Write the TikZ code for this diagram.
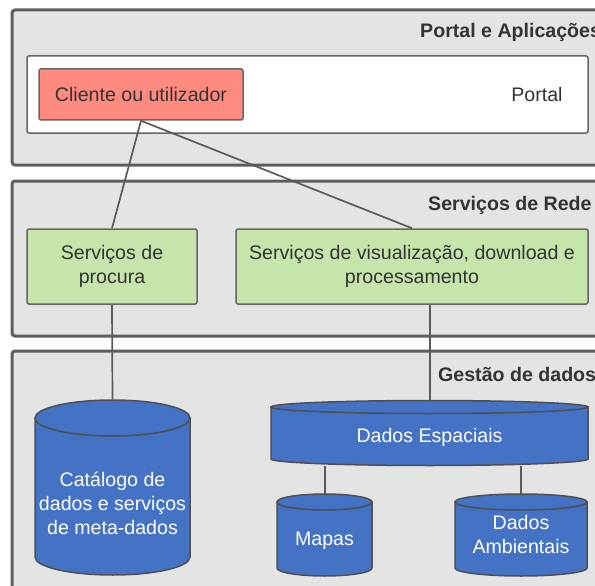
\documentclass[tikz,border=0pt]{standalone}
\usepackage{fontspec}
\setmainfont{Liberation Sans}
\definecolor{panelfill}{HTML}{E4E4E4}
\definecolor{panelline}{HTML}{5E5E5E}
\definecolor{boxline}{HTML}{666666}
\definecolor{connline}{HTML}{5A5A5A}
\definecolor{txt}{HTML}{333333}
\definecolor{salmon}{HTML}{FF8A7F}
\definecolor{leaf}{HTML}{C6E5AA}
\definecolor{dbblue}{HTML}{4472C4}
\definecolor{dbline}{HTML}{4F4F4F}

% cylinder: #1 left x, #2 right x, #3 top ellipse centre y, #4 bottom ellipse centre y, #5 y radius
\newcommand\dbcylinder[5]{%
  \pgfmathsetmacro\cylrx{(#2-#1)/2}%
  \pgfmathsetmacro\cylcx{(#2+#1)/2}%
  \filldraw[cylbody] (#1,#3) -- (#1,#4)
    arc[start angle=180, end angle=0, x radius=\cylrx, y radius=#5] -- (#2,#3) -- cycle;
  \filldraw[cylbody] (\cylcx,#3) ellipse [x radius=\cylrx, y radius=#5];
}

\begin{document}
\begin{tikzpicture}[x=1pt, y=-1pt,
  panel/.style={draw=panelline, line width=3pt, fill=panelfill, rounded corners=3pt},
  box/.style={draw=boxline, line width=1.5pt, rounded corners=2pt, text=txt,
    font=\fontsize{19.6}{24}\selectfont, align=center, inner sep=0pt},
  plain/.style={text=txt, font=\fontsize{19.6}{24}\selectfont, inner sep=0pt},
  title/.style={text=txt, font=\bfseries\fontsize{19.6}{24}\selectfont, inner sep=0pt, anchor=base west},
  cyltext/.style={text=white, font=\fontsize{19.6}{24}\selectfont, align=center, inner sep=0pt},
  cylbody/.style={fill=dbblue, draw=dbline, line width=1.5pt},
  conn/.style={draw=connline, line width=1.7pt}]

\useasboundingbox (0,0) rectangle (595,586);
\clip (0,0) rectangle (595,586);

% layer panels
\draw[panel] (12,10) rectangle (620,165);
\draw[panel] (12,181) rectangle (620,336);
\draw[panel] (12,351) rectangle (620,620);

\node[title] (t1) at (420,37.5) {Portal e Aplicações};
\node[title] (t2) at (428,210) {Serviços de Rede};
\node[title] (t3) at (438,381.5) {Gestão de dados};

% portal layer
\node[box, fill=white, minimum width=561, minimum height=77] (portal) at (307.5,94.5) {};
\node[plain, anchor=base] (portaltxt) at (537,102) {Portal};
\node[box, fill=salmon, minimum width=204, minimum height=51] (cliente) at (141,94.5) {Cliente ou utilizador};

% network services layer
\node[box, fill=leaf, minimum width=170, minimum height=75] (procura) at (112,266.5) {Serviços de\\procura};
\node[box, fill=leaf, minimum width=352, minimum height=75] (visual) at (412,266.5) {Serviços de visualização, download e\\processamento};

% data layer
\dbcylinder{35}{190}{418}{557}{18}
\dbcylinder{271}{588}{407}{459}{6.5}
\dbcylinder{277}{372}{502}{568}{8}
\dbcylinder{455}{587}{502}{568}{8}

\node[cyltext] (catalogo) at (112.5,503) {Catálogo de\\dados e serviços\\de meta-dados};
\node[cyltext] (espaciais) at (429.5,437) {Dados Espaciais};
\node[cyltext] (mapas) at (324.5,541) {Mapas};
\node[cyltext] (ambientais) at (521,534) {Dados\\Ambientais};

\coordinate (catalogoTop) at (112.5,400);
\coordinate (espaciaisTop) at (430,400.5);
\coordinate (mapasLink) at (325,465.5);
\coordinate (mapasTop) at (325,494);
\coordinate (ambLink) at (521,465.5);
\coordinate (ambTop) at (521,494);

% connectors
\draw[conn] (cliente.south) -- (procura.north);
\draw[conn] (cliente.south) -- (visual.north);
\draw[conn] (procura.south) -- (catalogoTop);
\draw[conn] (visual.south -| espaciaisTop) -- (espaciaisTop);
\draw[conn] (mapasLink) -- (mapasTop);
\draw[conn] (ambLink) -- (ambTop);
\end{tikzpicture}
\end{document}
